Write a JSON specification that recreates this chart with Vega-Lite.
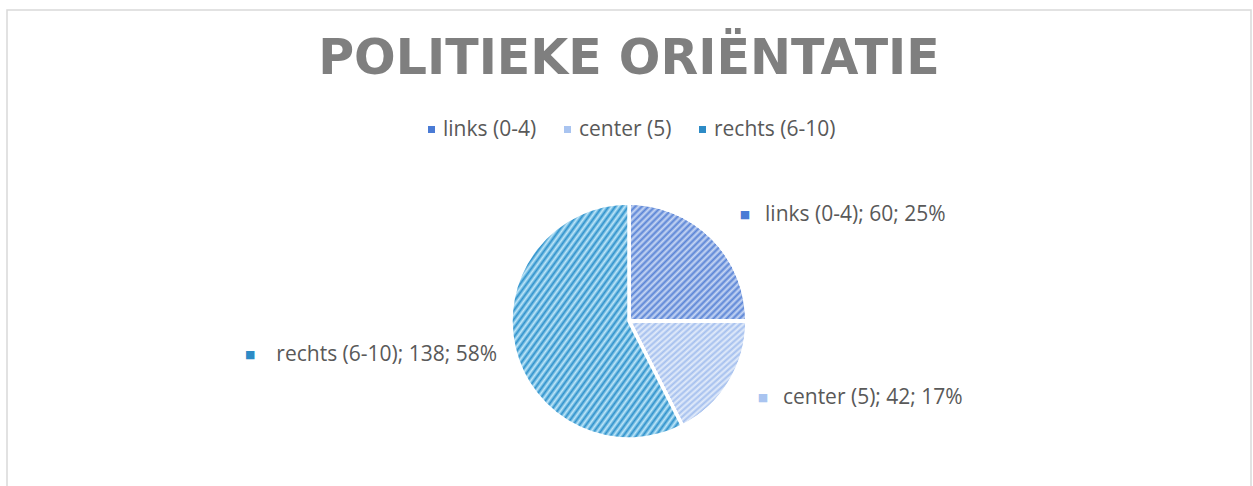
{
  "$schema": "https://vega.github.io/schema/vega-lite/v6.json",
  "width": 1244,
  "height": 622,
  "autosize": {"type": "none"},
  "padding": {"left": 7, "top": 10, "right": 2, "bottom": 0},
  "background": "white",
  "view": {"stroke": "#d9d9d9", "strokeWidth": 1.5, "fill": "white"},
  "config": {"font": "Open Sans"},
  "title": {"text": "POLITIEKE ORIËNTATIE", "orient": "top", "anchor": "middle", "offset": -113, "baseline": "alphabetic", "fontSize": 49, "font": "DejaVu Sans", "fontWeight": "bold", "color": "#7f7f7f"},
  "data": {"values": [
    {"category": "links (0-4)", "value": 60, "rank": 1, "label": "links (0-4); 60; 25%"},
    {"category": "center (5)", "value": 42, "rank": 2, "label": "center (5); 42; 17%"},
    {"category": "rechts (6-10)", "value": 138, "rank": 3, "label": "rechts (6-10); 138; 58%"}
  ]},
  "encoding": {
    "theta": {"field": "value", "type": "quantitative", "stack": true},
    "order": {"field": "rank", "type": "quantitative"}
  },
  "layer": [
    {
      "mark": {"type": "arc", "outerRadius": 118, "stroke": "white", "strokeWidth": 3.5},
      "encoding": {
        "color": {"field": "category", "type": "nominal",
          "scale": {"domain": ["links (0-4)", "center (5)", "rechts (6-10)"], "range": ["#4a7bd5", "#a9c4f0", "#2d8bc6"]},
          "legend": {"title": null, "orient": "none", "legendX": 414, "legendY": 109, "direction": "horizontal", "gridAlign": "none", "symbolType": "square", "symbolSize": 49, "symbolStrokeWidth": 0, "labelFontSize": 21, "labelColor": "#595959", "labelFont": "Open Sans", "columnPadding": 20, "labelOffset": 1, "padding": 0}}
      }
    },
    {
      "mark": {"type": "arc", "outerRadius": 118, "stroke": "white", "strokeWidth": 3.5},
      "encoding": {
        "fill": {"value": {"gradient": "linear", "x1": 0, "y1": 0, "x2": 1, "y2": 1, "stops": [
              {"offset": 0, "color": "#c9d8f4"}, {"offset": 0.0139, "color": "#5a84d6"}, {"offset": 0.0278, "color": "#c9d8f4"}, {"offset": 0.0417, "color": "#5a84d6"}, {"offset": 0.0556, "color": "#c9d8f4"}, {"offset": 0.0694, "color": "#5a84d6"}, {"offset": 0.0833, "color": "#c9d8f4"}, {"offset": 0.0972, "color": "#5a84d6"}, {"offset": 0.1111, "color": "#c9d8f4"}, {"offset": 0.125, "color": "#5a84d6"}, {"offset": 0.1389, "color": "#c9d8f4"}, {"offset": 0.1528, "color": "#5a84d6"}, {"offset": 0.1667, "color": "#c9d8f4"}, {"offset": 0.1806, "color": "#5a84d6"}, {"offset": 0.1944, "color": "#c9d8f4"}, {"offset": 0.2083, "color": "#5a84d6"}, {"offset": 0.2222, "color": "#c9d8f4"}, {"offset": 0.2361, "color": "#5a84d6"}, {"offset": 0.25, "color": "#c9d8f4"}, {"offset": 0.2639, "color": "#5a84d6"}, {"offset": 0.2778, "color": "#c9d8f4"}, {"offset": 0.2917, "color": "#5a84d6"}, {"offset": 0.3056, "color": "#c9d8f4"}, {"offset": 0.3194, "color": "#5a84d6"}, {"offset": 0.3333, "color": "#c9d8f4"}, {"offset": 0.3472, "color": "#5a84d6"}, {"offset": 0.3611, "color": "#c9d8f4"}, {"offset": 0.375, "color": "#5a84d6"}, {"offset": 0.3889, "color": "#c9d8f4"}, {"offset": 0.4028, "color": "#5a84d6"}, {"offset": 0.4167, "color": "#c9d8f4"}, {"offset": 0.4306, "color": "#5a84d6"}, {"offset": 0.4444, "color": "#c9d8f4"}, {"offset": 0.4583, "color": "#5a84d6"}, {"offset": 0.4722, "color": "#c9d8f4"}, {"offset": 0.4861, "color": "#5a84d6"}, {"offset": 0.5, "color": "#c9d8f4"}, {"offset": 0.5139, "color": "#5a84d6"}, {"offset": 0.5278, "color": "#c9d8f4"}, {"offset": 0.5417, "color": "#5a84d6"}, {"offset": 0.5556, "color": "#c9d8f4"}, {"offset": 0.5694, "color": "#5a84d6"}, {"offset": 0.5833, "color": "#c9d8f4"}, {"offset": 0.5972, "color": "#5a84d6"}, {"offset": 0.6111, "color": "#c9d8f4"}, {"offset": 0.625, "color": "#5a84d6"}, {"offset": 0.6389, "color": "#c9d8f4"}, {"offset": 0.6528, "color": "#5a84d6"}, {"offset": 0.6667, "color": "#c9d8f4"}, {"offset": 0.6806, "color": "#5a84d6"}, {"offset": 0.6944, "color": "#c9d8f4"}, {"offset": 0.7083, "color": "#5a84d6"}, {"offset": 0.7222, "color": "#c9d8f4"}, {"offset": 0.7361, "color": "#5a84d6"}, {"offset": 0.75, "color": "#c9d8f4"}, {"offset": 0.7639, "color": "#5a84d6"}, {"offset": 0.7778, "color": "#c9d8f4"}, {"offset": 0.7917, "color": "#5a84d6"}, {"offset": 0.8056, "color": "#c9d8f4"}, {"offset": 0.8194, "color": "#5a84d6"}, {"offset": 0.8333, "color": "#c9d8f4"}, {"offset": 0.8472, "color": "#5a84d6"}, {"offset": 0.8611, "color": "#c9d8f4"}, {"offset": 0.875, "color": "#5a84d6"}, {"offset": 0.8889, "color": "#c9d8f4"}, {"offset": 0.9028, "color": "#5a84d6"}, {"offset": 0.9167, "color": "#c9d8f4"}, {"offset": 0.9306, "color": "#5a84d6"}, {"offset": 0.9444, "color": "#c9d8f4"}, {"offset": 0.9583, "color": "#5a84d6"}, {"offset": 0.9722, "color": "#c9d8f4"}, {"offset": 0.9861, "color": "#5a84d6"}, {"offset": 1, "color": "#c9d8f4"}
            ]}},
        "fillOpacity": {"condition": {"test": "datum.rank === 1", "value": 1}, "value": 0}
      }
    },
    {
      "mark": {"type": "arc", "outerRadius": 118, "stroke": "white", "strokeWidth": 3.5},
      "encoding": {
        "fill": {"value": {"gradient": "linear", "x1": 0, "y1": 0, "x2": 1, "y2": 1, "stops": [
              {"offset": 0, "color": "#e3ecfa"}, {"offset": 0.0139, "color": "#a4bfee"}, {"offset": 0.0278, "color": "#e3ecfa"}, {"offset": 0.0417, "color": "#a4bfee"}, {"offset": 0.0556, "color": "#e3ecfa"}, {"offset": 0.0694, "color": "#a4bfee"}, {"offset": 0.0833, "color": "#e3ecfa"}, {"offset": 0.0972, "color": "#a4bfee"}, {"offset": 0.1111, "color": "#e3ecfa"}, {"offset": 0.125, "color": "#a4bfee"}, {"offset": 0.1389, "color": "#e3ecfa"}, {"offset": 0.1528, "color": "#a4bfee"}, {"offset": 0.1667, "color": "#e3ecfa"}, {"offset": 0.1806, "color": "#a4bfee"}, {"offset": 0.1944, "color": "#e3ecfa"}, {"offset": 0.2083, "color": "#a4bfee"}, {"offset": 0.2222, "color": "#e3ecfa"}, {"offset": 0.2361, "color": "#a4bfee"}, {"offset": 0.25, "color": "#e3ecfa"}, {"offset": 0.2639, "color": "#a4bfee"}, {"offset": 0.2778, "color": "#e3ecfa"}, {"offset": 0.2917, "color": "#a4bfee"}, {"offset": 0.3056, "color": "#e3ecfa"}, {"offset": 0.3194, "color": "#a4bfee"}, {"offset": 0.3333, "color": "#e3ecfa"}, {"offset": 0.3472, "color": "#a4bfee"}, {"offset": 0.3611, "color": "#e3ecfa"}, {"offset": 0.375, "color": "#a4bfee"}, {"offset": 0.3889, "color": "#e3ecfa"}, {"offset": 0.4028, "color": "#a4bfee"}, {"offset": 0.4167, "color": "#e3ecfa"}, {"offset": 0.4306, "color": "#a4bfee"}, {"offset": 0.4444, "color": "#e3ecfa"}, {"offset": 0.4583, "color": "#a4bfee"}, {"offset": 0.4722, "color": "#e3ecfa"}, {"offset": 0.4861, "color": "#a4bfee"}, {"offset": 0.5, "color": "#e3ecfa"}, {"offset": 0.5139, "color": "#a4bfee"}, {"offset": 0.5278, "color": "#e3ecfa"}, {"offset": 0.5417, "color": "#a4bfee"}, {"offset": 0.5556, "color": "#e3ecfa"}, {"offset": 0.5694, "color": "#a4bfee"}, {"offset": 0.5833, "color": "#e3ecfa"}, {"offset": 0.5972, "color": "#a4bfee"}, {"offset": 0.6111, "color": "#e3ecfa"}, {"offset": 0.625, "color": "#a4bfee"}, {"offset": 0.6389, "color": "#e3ecfa"}, {"offset": 0.6528, "color": "#a4bfee"}, {"offset": 0.6667, "color": "#e3ecfa"}, {"offset": 0.6806, "color": "#a4bfee"}, {"offset": 0.6944, "color": "#e3ecfa"}, {"offset": 0.7083, "color": "#a4bfee"}, {"offset": 0.7222, "color": "#e3ecfa"}, {"offset": 0.7361, "color": "#a4bfee"}, {"offset": 0.75, "color": "#e3ecfa"}, {"offset": 0.7639, "color": "#a4bfee"}, {"offset": 0.7778, "color": "#e3ecfa"}, {"offset": 0.7917, "color": "#a4bfee"}, {"offset": 0.8056, "color": "#e3ecfa"}, {"offset": 0.8194, "color": "#a4bfee"}, {"offset": 0.8333, "color": "#e3ecfa"}, {"offset": 0.8472, "color": "#a4bfee"}, {"offset": 0.8611, "color": "#e3ecfa"}, {"offset": 0.875, "color": "#a4bfee"}, {"offset": 0.8889, "color": "#e3ecfa"}, {"offset": 0.9028, "color": "#a4bfee"}, {"offset": 0.9167, "color": "#e3ecfa"}, {"offset": 0.9306, "color": "#a4bfee"}, {"offset": 0.9444, "color": "#e3ecfa"}, {"offset": 0.9583, "color": "#a4bfee"}, {"offset": 0.9722, "color": "#e3ecfa"}, {"offset": 0.9861, "color": "#a4bfee"}, {"offset": 1, "color": "#e3ecfa"}
            ]}},
        "fillOpacity": {"condition": {"test": "datum.rank === 2", "value": 1}, "value": 0}
      }
    },
    {
      "mark": {"type": "arc", "outerRadius": 118, "stroke": "white", "strokeWidth": 3.5},
      "encoding": {
        "fill": {"value": {"gradient": "linear", "x1": 0, "y1": 0, "x2": 1, "y2": 1, "stops": [
              {"offset": 0, "color": "#bfe7f9"}, {"offset": 0.0094, "color": "#2f92cc"}, {"offset": 0.0189, "color": "#bfe7f9"}, {"offset": 0.0283, "color": "#2f92cc"}, {"offset": 0.0377, "color": "#bfe7f9"}, {"offset": 0.0472, "color": "#2f92cc"}, {"offset": 0.0566, "color": "#bfe7f9"}, {"offset": 0.066, "color": "#2f92cc"}, {"offset": 0.0755, "color": "#bfe7f9"}, {"offset": 0.0849, "color": "#2f92cc"}, {"offset": 0.0943, "color": "#bfe7f9"}, {"offset": 0.1038, "color": "#2f92cc"}, {"offset": 0.1132, "color": "#bfe7f9"}, {"offset": 0.1226, "color": "#2f92cc"}, {"offset": 0.1321, "color": "#bfe7f9"}, {"offset": 0.1415, "color": "#2f92cc"}, {"offset": 0.1509, "color": "#bfe7f9"}, {"offset": 0.1604, "color": "#2f92cc"}, {"offset": 0.1698, "color": "#bfe7f9"}, {"offset": 0.1792, "color": "#2f92cc"}, {"offset": 0.1887, "color": "#bfe7f9"}, {"offset": 0.1981, "color": "#2f92cc"}, {"offset": 0.2075, "color": "#bfe7f9"}, {"offset": 0.217, "color": "#2f92cc"}, {"offset": 0.2264, "color": "#bfe7f9"}, {"offset": 0.2358, "color": "#2f92cc"}, {"offset": 0.2453, "color": "#bfe7f9"}, {"offset": 0.2547, "color": "#2f92cc"}, {"offset": 0.2642, "color": "#bfe7f9"}, {"offset": 0.2736, "color": "#2f92cc"}, {"offset": 0.283, "color": "#bfe7f9"}, {"offset": 0.2925, "color": "#2f92cc"}, {"offset": 0.3019, "color": "#bfe7f9"}, {"offset": 0.3113, "color": "#2f92cc"}, {"offset": 0.3208, "color": "#bfe7f9"}, {"offset": 0.3302, "color": "#2f92cc"}, {"offset": 0.3396, "color": "#bfe7f9"}, {"offset": 0.3491, "color": "#2f92cc"}, {"offset": 0.3585, "color": "#bfe7f9"}, {"offset": 0.3679, "color": "#2f92cc"}, {"offset": 0.3774, "color": "#bfe7f9"}, {"offset": 0.3868, "color": "#2f92cc"}, {"offset": 0.3962, "color": "#bfe7f9"}, {"offset": 0.4057, "color": "#2f92cc"}, {"offset": 0.4151, "color": "#bfe7f9"}, {"offset": 0.4245, "color": "#2f92cc"}, {"offset": 0.434, "color": "#bfe7f9"}, {"offset": 0.4434, "color": "#2f92cc"}, {"offset": 0.4528, "color": "#bfe7f9"}, {"offset": 0.4623, "color": "#2f92cc"}, {"offset": 0.4717, "color": "#bfe7f9"}, {"offset": 0.4811, "color": "#2f92cc"}, {"offset": 0.4906, "color": "#bfe7f9"}, {"offset": 0.5, "color": "#2f92cc"}, {"offset": 0.5094, "color": "#bfe7f9"}, {"offset": 0.5189, "color": "#2f92cc"}, {"offset": 0.5283, "color": "#bfe7f9"}, {"offset": 0.5377, "color": "#2f92cc"}, {"offset": 0.5472, "color": "#bfe7f9"}, {"offset": 0.5566, "color": "#2f92cc"}, {"offset": 0.566, "color": "#bfe7f9"}, {"offset": 0.5755, "color": "#2f92cc"}, {"offset": 0.5849, "color": "#bfe7f9"}, {"offset": 0.5943, "color": "#2f92cc"}, {"offset": 0.6038, "color": "#bfe7f9"}, {"offset": 0.6132, "color": "#2f92cc"}, {"offset": 0.6226, "color": "#bfe7f9"}, {"offset": 0.6321, "color": "#2f92cc"}, {"offset": 0.6415, "color": "#bfe7f9"}, {"offset": 0.6509, "color": "#2f92cc"}, {"offset": 0.6604, "color": "#bfe7f9"}, {"offset": 0.6698, "color": "#2f92cc"}, {"offset": 0.6792, "color": "#bfe7f9"}, {"offset": 0.6887, "color": "#2f92cc"}, {"offset": 0.6981, "color": "#bfe7f9"}, {"offset": 0.7075, "color": "#2f92cc"}, {"offset": 0.717, "color": "#bfe7f9"}, {"offset": 0.7264, "color": "#2f92cc"}, {"offset": 0.7358, "color": "#bfe7f9"}, {"offset": 0.7453, "color": "#2f92cc"}, {"offset": 0.7547, "color": "#bfe7f9"}, {"offset": 0.7642, "color": "#2f92cc"}, {"offset": 0.7736, "color": "#bfe7f9"}, {"offset": 0.783, "color": "#2f92cc"}, {"offset": 0.7925, "color": "#bfe7f9"}, {"offset": 0.8019, "color": "#2f92cc"}, {"offset": 0.8113, "color": "#bfe7f9"}, {"offset": 0.8208, "color": "#2f92cc"}, {"offset": 0.8302, "color": "#bfe7f9"}, {"offset": 0.8396, "color": "#2f92cc"}, {"offset": 0.8491, "color": "#bfe7f9"}, {"offset": 0.8585, "color": "#2f92cc"}, {"offset": 0.8679, "color": "#bfe7f9"}, {"offset": 0.8774, "color": "#2f92cc"}, {"offset": 0.8868, "color": "#bfe7f9"}, {"offset": 0.8962, "color": "#2f92cc"}, {"offset": 0.9057, "color": "#bfe7f9"}, {"offset": 0.9151, "color": "#2f92cc"}, {"offset": 0.9245, "color": "#bfe7f9"}, {"offset": 0.934, "color": "#2f92cc"}, {"offset": 0.9434, "color": "#bfe7f9"}, {"offset": 0.9528, "color": "#2f92cc"}, {"offset": 0.9623, "color": "#bfe7f9"}, {"offset": 0.9717, "color": "#2f92cc"}, {"offset": 0.9811, "color": "#bfe7f9"}, {"offset": 0.9906, "color": "#2f92cc"}, {"offset": 1, "color": "#bfe7f9"}
            ]}},
        "fillOpacity": {"condition": {"test": "datum.rank === 3", "value": 1}, "value": 0}
      }
    },
    {
      "mark": {"type": "text", "radius": 150, "dx": 10, "dy": 0, "font": "DejaVu Sans", "fontSize": 11, "color": "#4a7bd5", "align": "center", "baseline": "middle"},
      "encoding": {"text": {"condition": {"test": "datum.rank === 1", "value": "■"}, "value": ""}}
    },
    {
      "mark": {"type": "text", "radius": 150, "dx": 30, "dy": 0, "fontSize": 21, "color": "#595959", "align": "left", "baseline": "middle"},
      "encoding": {"text": {"condition": {"test": "datum.rank === 1", "field": "label"}, "value": ""}}
    },
    {
      "mark": {"type": "text", "radius": 150, "dx": 6, "dy": -1, "font": "DejaVu Sans", "fontSize": 11, "color": "#a9c4f0", "align": "center", "baseline": "middle"},
      "encoding": {"text": {"condition": {"test": "datum.rank === 2", "value": "■"}, "value": ""}}
    },
    {
      "mark": {"type": "text", "radius": 150, "dx": 26, "dy": -1, "fontSize": 21, "color": "#595959", "align": "left", "baseline": "middle"},
      "encoding": {"text": {"condition": {"test": "datum.rank === 2", "field": "label"}, "value": ""}}
    },
    {
      "mark": {"type": "text", "radius": 150, "dx": -233, "dy": -1, "font": "DejaVu Sans", "fontSize": 11, "color": "#2d8bc6", "align": "center", "baseline": "middle"},
      "encoding": {"text": {"condition": {"test": "datum.rank === 3", "value": "■"}, "value": ""}}
    },
    {
      "mark": {"type": "text", "radius": 150, "dx": 14, "dy": -1, "fontSize": 21, "color": "#595959", "align": "right", "baseline": "middle"},
      "encoding": {"text": {"condition": {"test": "datum.rank === 3", "field": "label"}, "value": ""}}
    }
  ]
}
